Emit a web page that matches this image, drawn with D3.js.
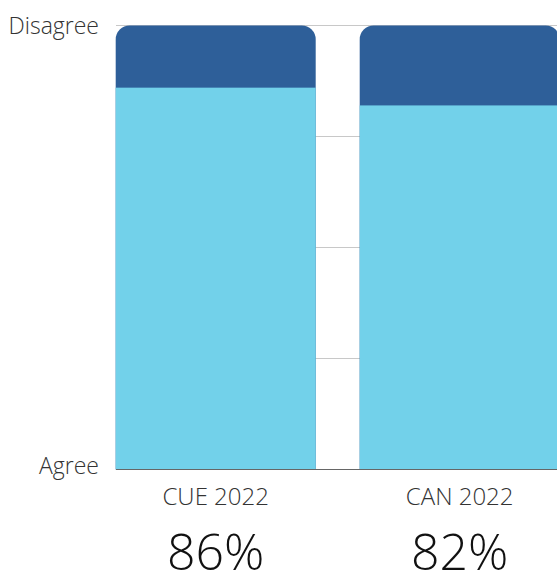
<!DOCTYPE html>
<html><head><meta charset="utf-8">
<script src="https://cdn.jsdelivr.net/npm/d3@7"></script>
<style>
html,body{margin:0;padding:0;background:#fff;}
text{font-family:"Open Sans",sans-serif;font-weight:300;fill:#333;}
</style></head>
<body><svg id="c" width="557" height="572"></svg>
<script>
const categories = ["CUE 2022", "CAN 2022"];
const agree = [86, 82];
const disagree = [14, 18];
const axisLabels = ["Agree", "Disagree"];
const gridTicks = [0, 25, 50, 75, 100];

const svg = d3.select("#c");
const x = d3.scaleBand().domain(categories).range([115.7, 559.7]).paddingInner(44/244).paddingOuter(0);
const y = d3.scaleLinear().domain([0, 100]).range([469.5, 25.5]);

// gridlines
svg.append("g").selectAll("line").data(gridTicks.slice(1)).join("line")
  .attr("x1", 116).attr("x2", 557)
  .attr("y1", d => y(d)).attr("y2", d => y(d))
  .attr("stroke", "#c8c8c8").attr("stroke-width", 1);

const r = 14;
function topRounded(x0, y0, w, h, r) {
  const p = d3.path();
  p.moveTo(x0, y0 + h);
  p.lineTo(x0, y0 + r);
  p.arcTo(x0, y0, x0 + r, y0, r);
  p.lineTo(x0 + w - r, y0);
  p.arcTo(x0 + w, y0, x0 + w, y0 + r, r);
  p.lineTo(x0 + w, y0 + h);
  p.closePath();
  return p.toString();
}

const g = svg.append("g");
categories.forEach((c, i) => {
  const x0 = x(c), w = x.bandwidth();
  const top = y(agree[i] + disagree[i]);
  g.append("path").attr("d", topRounded(x0, top, w, y(0) - top, r)).attr("fill", "#2e5f99");
  g.append("rect").attr("x", x0).attr("y", y(agree[i])).attr("width", w)
    .attr("height", y(0) - y(agree[i])).attr("fill", "#72d1ea");
  svg.append("text").attr("x", x0 + w/2).attr("y", 505).attr("text-anchor", "middle")
    .attr("font-size", 24).text(c);
  svg.append("text").attr("x", x0 + w/2).attr("y", 570).attr("text-anchor", "middle")
    .attr("font-size", 50).style("fill", "#111").text(agree[i] + "%");
});

// baseline
svg.append("line").attr("x1", 116).attr("x2", 557).attr("y1", y(0)).attr("y2", y(0))
  .attr("stroke", "#666").attr("stroke-width", 1);

// axis end labels
svg.append("text").attr("x", 99).attr("y", y(100) + 8).attr("text-anchor", "end")
  .attr("font-size", 23).text(axisLabels[1]);
svg.append("text").attr("x", 99).attr("y", y(0) + 4).attr("text-anchor", "end")
  .attr("font-size", 23).text(axisLabels[0]);
</script></body></html>
